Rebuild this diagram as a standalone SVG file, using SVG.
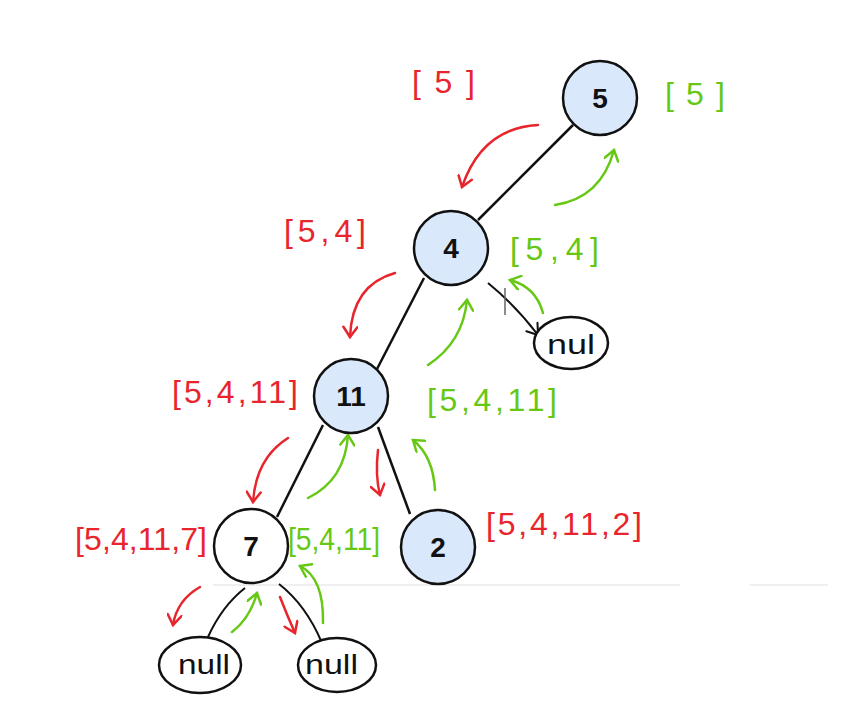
<svg xmlns="http://www.w3.org/2000/svg" width="841" height="721" viewBox="0 0 841 721">
<style>
.node circle{stroke:#111;stroke-width:2.5}
.blue{fill:#dae8fc}
.white{fill:#fff}
.nl{font-family:"Liberation Sans",Arial,sans-serif;font-weight:bold;fill:#111;text-anchor:middle}
.edge{stroke:#111;stroke-width:2.5;fill:none}
.thin{stroke:#111;stroke-width:2;fill:none}
.ra{stroke:#e8252d;stroke-width:2.5;fill:none;stroke-linecap:round;marker-end:url(#mr)}
.ga{stroke:#66c814;stroke-width:2.5;fill:none;stroke-linecap:round;marker-end:url(#mg)}
.ba{stroke:#111;stroke-width:2;fill:none;marker-end:url(#mb)}
.hr{font-family:"Liberation Sans",Arial,sans-serif;font-size:32px;fill:#e8252d}
.hg{font-family:"Liberation Sans",Arial,sans-serif;font-size:32px;fill:#66c814}
.nul{font-family:"Liberation Sans",Arial,sans-serif;font-size:28px;fill:#111}
.nullc{fill:#fff;stroke:#111;stroke-width:2.5}
</style>
<defs>
<marker id="mr" markerUnits="userSpaceOnUse" markerWidth="16" markerHeight="16" refX="12" refY="8" orient="auto" viewBox="0 0 16 16"><path d="M2,1 L12,8 L2,15" fill="none" stroke="#e8252d" stroke-width="2.5" stroke-linecap="round"/></marker>
<marker id="mg" markerUnits="userSpaceOnUse" markerWidth="16" markerHeight="16" refX="12" refY="8" orient="auto" viewBox="0 0 16 16"><path d="M2,1 L12,8 L2,15" fill="none" stroke="#66c814" stroke-width="2.5" stroke-linecap="round"/></marker>
<marker id="mb" markerUnits="userSpaceOnUse" markerWidth="16" markerHeight="16" refX="12" refY="8" orient="auto" viewBox="0 0 16 16"><path d="M2,1 L12,8 L2,15" fill="none" stroke="#111" stroke-width="2" stroke-linecap="round"/></marker>
</defs>
<rect width="841" height="721" fill="#fff"/>
<line x1="213" y1="585" x2="680" y2="585" stroke="#efefef" stroke-width="2"/>
<line x1="750" y1="585" x2="828" y2="585" stroke="#efefef" stroke-width="2"/>

<g id="connectors">
<line class="edge" x1="573" y1="125" x2="478" y2="220"/>
<line class="edge" x1="424" y1="278" x2="377" y2="369"/>
<line class="edge" x1="323" y1="425" x2="277" y2="517"/>
<line class="edge" x1="378" y1="427" x2="410" y2="514"/>
<path class="thin" d="M245,588 Q222,606 208,637"/>
<path class="thin" d="M279,584 Q306,605 322,643"/>
<path class="ba" d="M488,283 Q515,305 538,335"/>
<line x1="505" y1="288" x2="505" y2="315" stroke="#666" stroke-width="1.5"/>
<path class="ra" d="M538,125 Q482,128 462,187"/>
<path class="ra" d="M395,273 Q352,285 350,337"/>
<path class="ra" d="M288,438 Q256,458 253,502"/>
<path class="ra" d="M378,450 Q375,475 380,495"/>
<path class="ra" d="M200,587 Q177,600 173,625"/>
<path class="ra" d="M280,597 Q287,615 295,633"/>
<path class="ga" d="M555,205 Q601,198 614,150"/>
<path class="ga" d="M428,365 Q463,342 467,300"/>
<path class="ga" d="M543,313 Q536,287 510,280"/>
<path class="ga" d="M308,498 Q345,480 348,435"/>
<path class="ga" d="M435,490 Q433,456 413,440"/>
<path class="ga" d="M232,632 Q250,618 257,593"/>
<path class="ga" d="M323,623 Q324,578 300,566"/>
</g>

<g id="n5" class="node"><circle class="blue" cx="600" cy="98" r="37"/><text class="nl" x="600" y="108" font-size="28">5</text></g>
<g id="n4" class="node"><circle class="blue" cx="451" cy="248" r="37"/><text class="nl" x="451" y="258" font-size="28">4</text></g>
<g id="n11" class="node"><circle class="blue" cx="351" cy="396" r="37"/><text class="nl" x="351" y="406" font-size="28">11</text></g>
<g id="n7" class="node"><circle class="white" cx="251" cy="546" r="37"/><text class="nl" x="251" y="556" font-size="28">7</text></g>
<g id="n2" class="node"><circle class="blue" cx="438" cy="547" r="37"/><text class="nl" x="438" y="557" font-size="28">2</text></g>

<g id="null4"><ellipse class="nullc" cx="571" cy="343" rx="37" ry="26"/><text class="nul" x="547" y="354" textLength="48" lengthAdjust="spacingAndGlyphs">nul</text></g>
<g id="null7l"><ellipse class="nullc" cx="200" cy="665" rx="41" ry="28"/><text class="nul" x="178" y="674" textLength="52" lengthAdjust="spacingAndGlyphs">null</text></g>
<g id="null7r"><ellipse class="nullc" cx="337" cy="665" rx="39" ry="27"/><text class="nul" x="305" y="674" textLength="53" lengthAdjust="spacingAndGlyphs">null</text></g>

<g id="labels">
<text class="hr" x="412" y="93" textLength="63" lengthAdjust="spacing">[5]</text>
<text class="hg" x="665" y="105" textLength="60" lengthAdjust="spacing">[5]</text>
<text class="hr" x="284" y="242" textLength="82" lengthAdjust="spacing">[5,4]</text>
<text class="hg" x="510" y="260" textLength="89" lengthAdjust="spacing">[5,4]</text>
<text class="hr" x="172" y="403" textLength="126" lengthAdjust="spacing">[5,4,11]</text>
<text class="hg" x="427" y="411" textLength="130" lengthAdjust="spacing">[5,4,11]</text>
<text class="hr" x="75" y="550" textLength="132" lengthAdjust="spacing">[5,4,11,7]</text>
<text class="hg" x="288" y="550" textLength="92" lengthAdjust="spacingAndGlyphs">[5,4,11]</text>
<text class="hr" x="486" y="535" textLength="156" lengthAdjust="spacing">[5,4,11,2]</text>
</g>
</svg>
